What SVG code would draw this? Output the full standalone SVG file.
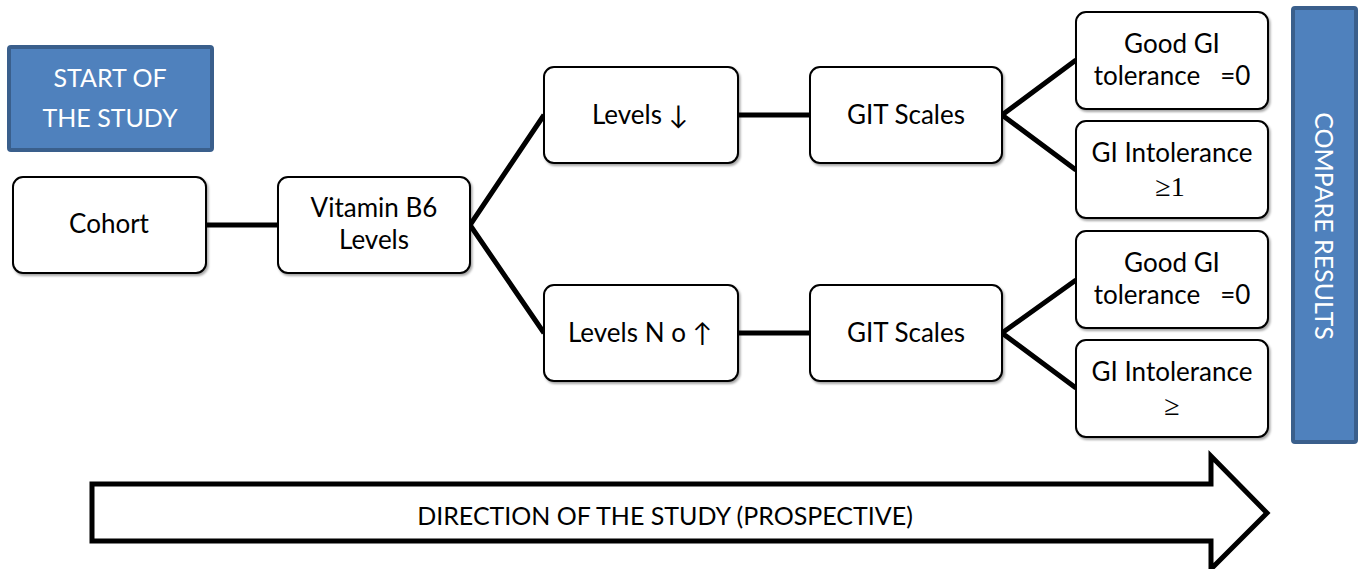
<svg xmlns="http://www.w3.org/2000/svg" width="1363" height="569" viewBox="0 0 1363 569">
<defs>
<filter id="sh" x="-10%" y="-10%" width="130%" height="130%">
<feDropShadow dx="1.5" dy="2" stdDeviation="1.2" flood-color="#000" flood-opacity="0.35"/>
</filter>
</defs>
<style>
.box{fill:#fff;stroke:#000;stroke-width:2;filter:url(#sh)}
.blue{fill:#4F81BD;stroke:#3A5F8C;stroke-width:4}
.t{font-family:Lato,"Open Sans",sans-serif;font-size:26px;fill:#000;text-anchor:middle}
.w{fill:#fff;font-size:25px}
.s{font-family:"Liberation Serif",serif;font-size:28px;fill:#000;text-anchor:middle}
.c{stroke:#000;stroke-width:5;fill:none}
</style>
<g id="start">
<rect class="blue" x="9" y="47" width="203" height="103" rx="2"/>
<text class="t w" x="110" y="87">START OF</text>
<text class="t w" x="110" y="127">THE STUDY</text>
</g>
<g id="connectors">
<line class="c" x1="206" y1="225" x2="278" y2="225"/>
<polyline class="c" points="544,115 470,225 544,333"/>
<line class="c" x1="738" y1="115" x2="810" y2="115"/>
<line class="c" x1="738" y1="333" x2="810" y2="333"/>
<polyline class="c" points="1076,60 1002,115 1076,170"/>
<polyline class="c" points="1076,280 1002,333 1076,388"/>
</g>
<g id="cohort">
<rect class="box" x="13" y="177" width="193" height="96" rx="10"/>
<text class="t" x="109" y="233">Cohort</text>
</g>
<g id="vitb6">
<rect class="box" x="278" y="177" width="192" height="96" rx="10"/>
<text class="t" x="374" y="217">Vitamin B6</text>
<text class="t" x="374" y="249">Levels</text>
</g>
<g id="levels-down">
<rect class="box" x="544" y="67" width="194" height="96" rx="10"/>
<text class="t" x="640" y="124">Levels ↓</text>
</g>
<g id="levels-up">
<rect class="box" x="544" y="285" width="194" height="96" rx="10"/>
<text class="t" x="640" y="342">Levels N o ↑</text>
</g>
<g id="git1">
<rect class="box" x="810" y="67" width="192" height="96" rx="10"/>
<text class="t" x="906" y="124">GIT Scales</text>
</g>
<g id="git2">
<rect class="box" x="810" y="285" width="192" height="96" rx="10"/>
<text class="t" x="906" y="342">GIT Scales</text>
</g>
<g id="good1">
<rect class="box" x="1076" y="12" width="192" height="97" rx="10"/>
<text class="t" x="1172" y="53">Good GI</text>
<text class="t" x="1172" y="85" xml:space="preserve">tolerance   =0</text>
</g>
<g id="intol1">
<rect class="box" x="1076" y="121" width="192" height="97" rx="10"/>
<text class="t" x="1172" y="162">GI Intolerance</text>
<text class="s" x="1170" y="196">≥1</text>
</g>
<g id="good2">
<rect class="box" x="1076" y="231" width="192" height="97" rx="10"/>
<text class="t" x="1172" y="272">Good GI</text>
<text class="t" x="1172" y="304" xml:space="preserve">tolerance   =0</text>
</g>
<g id="intol2">
<rect class="box" x="1076" y="340" width="192" height="97" rx="10"/>
<text class="t" x="1172" y="381">GI Intolerance</text>
<text class="s" x="1172" y="415">≥</text>
</g>
<g id="compare">
<rect class="blue" x="1293" y="8" width="63" height="434" rx="2"/>
<text class="t w" transform="translate(1324,226) rotate(90)" x="0" y="9">COMPARE RESULTS</text>
</g>
<g id="direction">
<path d="M92,484 H1211 V456 L1267,513 L1211,569 V541 H92 Z" fill="#fff" stroke="#000" stroke-width="5" stroke-linejoin="miter"/>
<text class="t" x="665" y="525" style="font-size:25px">DIRECTION OF THE STUDY (PROSPECTIVE)</text>
</g>
</svg>
